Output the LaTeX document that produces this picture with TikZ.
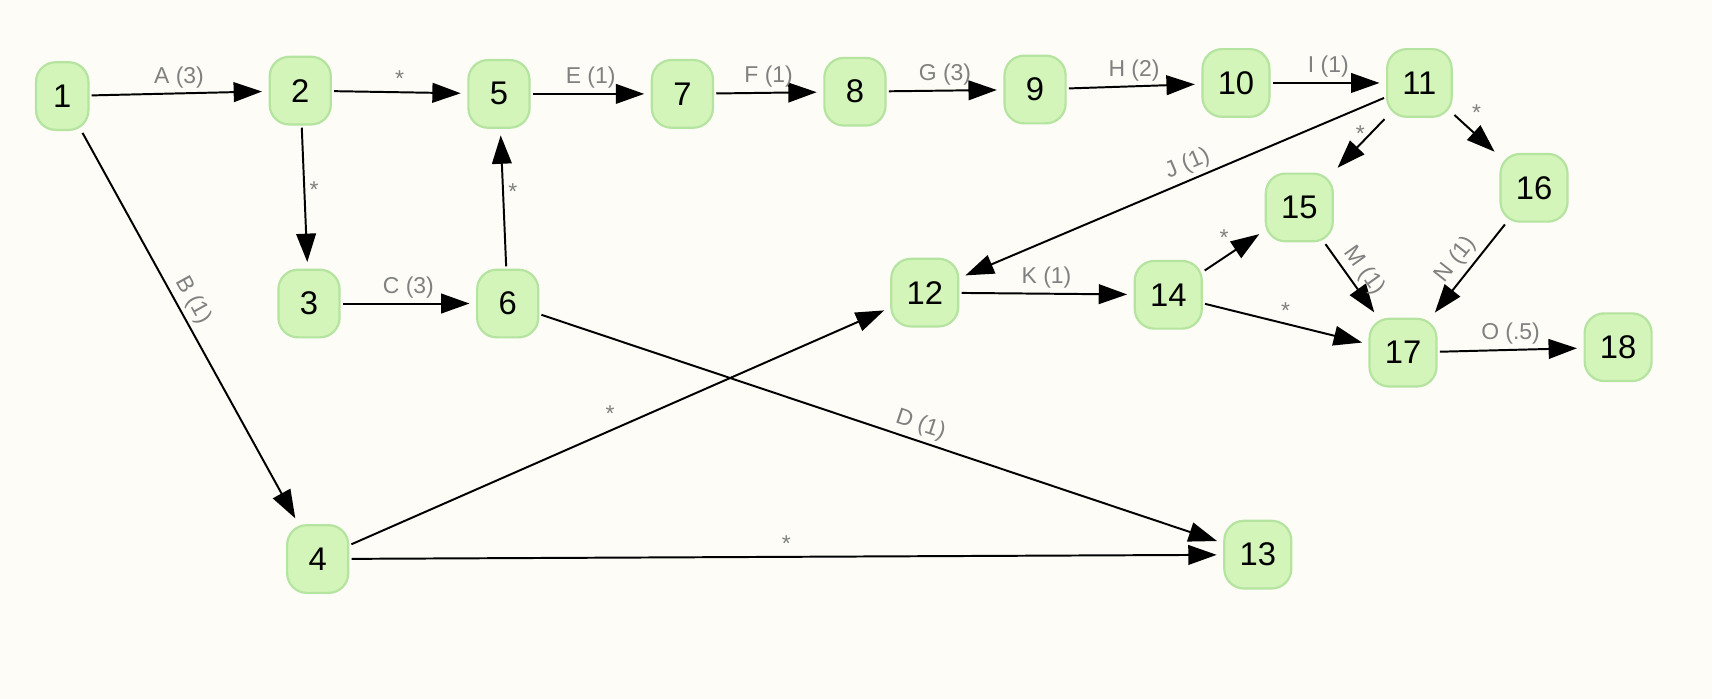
\documentclass[tikz,border=0pt]{standalone}
\usepackage{fontspec}
\setmainfont{Liberation Sans}
\usetikzlibrary{arrows.meta}
\definecolor{bg}{HTML}{FDFCF6}
\definecolor{nfill}{HTML}{D3F5B9}
\definecolor{nline}{HTML}{B5E3A0}
\definecolor{lab}{HTML}{808080}
\begin{document}
\begin{tikzpicture}[x=0.5pt,y=-0.5pt,
  nd/.style={draw=nline,line width=1pt,fill=nfill,rounded corners=9pt,minimum height=31pt,minimum width=28pt,inner xsep=7pt,font=\fontsize{15}{15}\selectfont},
  ed/.style={line width=0.9pt,-{Triangle[length=13pt,width=9pt]},shorten >=3pt,shorten <=1pt},
  lb/.style={font=\fontsize{10.5}{11}\selectfont,text=lab,inner sep=2pt}]
\fill[bg] (0,0) rectangle (1568,640);
\useasboundingbox (0,0) rectangle (1568,640);
\node[nd,minimum width=24pt] (n1) at (57,88) {1};
\node[nd] (n2) at (275,83) {2};
\node[nd] (n3) at (283,278) {3};
\node[nd] (n4) at (291,512) {4};
\node[nd] (n5) at (457,86) {5};
\node[nd] (n6) at (465,278) {6};
\node[nd] (n7) at (625,86) {7};
\node[nd] (n8) at (783,84) {8};
\node[nd] (n9) at (948,82) {9};
\node[nd] (n10) at (1132,76) {10};
\node[nd] (n11) at (1300,76) {11};
\node[nd] (n12) at (847,268) {12};
\node[nd] (n13) at (1152,508) {13};
\node[nd] (n14) at (1070,270) {14};
\node[nd] (n15) at (1190,190) {15};
\node[nd] (n16) at (1405,172) {16};
\node[nd] (n17) at (1285,323) {17};
\node[nd] (n18) at (1482,318) {18};
\draw[ed] (n1) -- node[lb,above]{A (3)} (n2);
\draw[ed] (n1) -- node[lb,sloped,above,pos=0.45]{B (1)} (n4);
\draw[ed] (n2) -- node[lb,above]{*} (n5);
\draw[ed] (n2) -- node[lb,right,pos=0.45]{*} (n3);
\draw[ed] (n3) -- node[lb,above]{C (3)} (n6);
\draw[ed] (n6) -- node[lb,right,pos=0.55]{*} (n5);
\draw[ed] (n6) -- node[lb,sloped,above,pos=0.55]{D (1)} (n13);
\draw[ed] (n5) -- node[lb,above]{E (1)} (n7);
\draw[ed] (n7) -- node[lb,above]{F (1)} (n8);
\draw[ed] (n8) -- node[lb,above]{G (3)} (n9);
\draw[ed] (n9) -- node[lb,above]{H (2)} (n10);
\draw[ed] (n10) -- node[lb,above]{I (1)} (n11);
\draw[ed] (n11) -- node[lb,sloped,above,pos=0.45]{J (1)} (n12);
\draw[ed] (n11) -- node[lb,left,pos=0.3]{*} (n15);
\draw[ed] (n11) -- node[lb,above right,pos=0.3]{*} (n16);
\draw[ed] (n4) -- node[lb,above left,pos=0.5]{*} (n12);
\draw[ed] (n4) -- node[lb,above]{*} (n13);
\draw[ed] (n12) -- node[lb,above]{K (1)} (n14);
\draw[ed] (n14) -- node[lb,above left,pos=0.5]{*} (n15);
\draw[ed] (n14) -- node[lb,above,pos=0.5]{*} (n17);
\draw[ed] (n15) -- node[lb,sloped,above,pos=0.5]{M (1)} (n17);
\draw[ed] (n16) -- node[lb,sloped,above,pos=0.5]{N (1)} (n17);
\draw[ed] (n17) -- node[lb,above]{O (.5)} (n18);
\end{tikzpicture}
\end{document}
